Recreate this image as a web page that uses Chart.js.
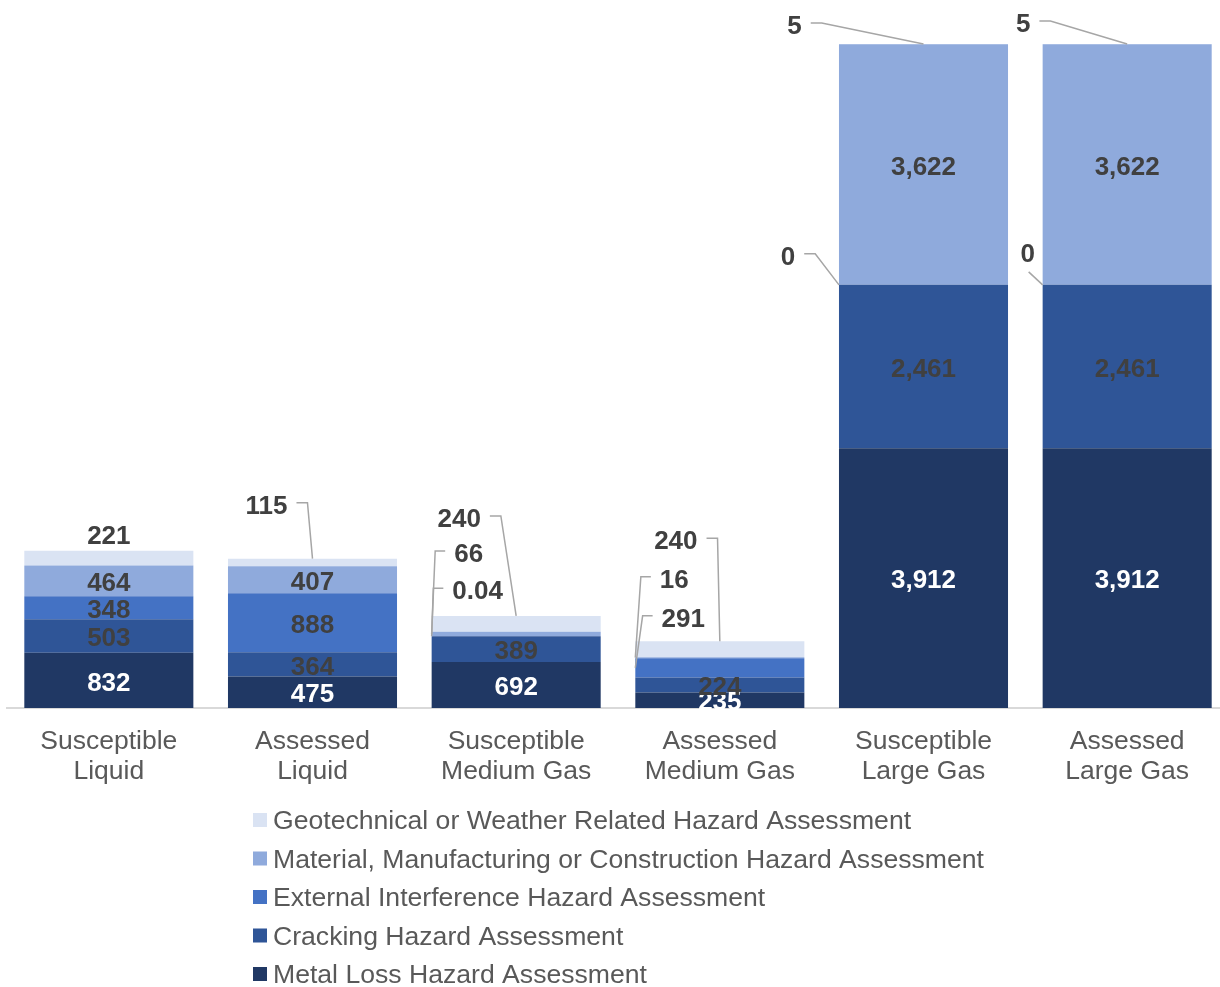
<!DOCTYPE html>
<html>
<head>
<meta charset="utf-8">
<script src="https://cdn.jsdelivr.net/npm/chart.js@4.4.1/dist/chart.umd.min.js"></script>
<style>
  html, body { margin: 0; padding: 0; overflow: hidden; background: #fff; }
</style>
</head>
<body>
<canvas id="chart" width="1230" height="987"></canvas>
<script>
const categories = [
  ['Susceptible', 'Liquid'],
  ['Assessed', 'Liquid'],
  ['Susceptible', 'Medium Gas'],
  ['Assessed', 'Medium Gas'],
  ['Susceptible', 'Large Gas'],
  ['Assessed', 'Large Gas']
];

// stacked bottom -> top
const metalLoss = [832, 475, 692, 235, 3912, 3912];
const cracking = [503, 364, 389, 224, 2461, 2461];
const externalInterference = [348, 888, 0.04, 291, 0, 0];
const material = [464, 407, 66, 16, 3622, 3622];
const geotechnical = [221, 115, 240, 240, 5, 5];

const seriesNames = [
  'Metal Loss Hazard Assessment',
  'Cracking Hazard Assessment',
  'External Interference Hazard Assessment',
  'Material, Manufacturing or Construction Hazard Assessment',
  'Geotechnical or Weather Related Hazard Assessment'
];
const seriesColors = ['#203864', '#2F5597', '#4472C4', '#8FAADC', '#DAE3F3'];

const FONT = '"Liberation Sans", Arial, sans-serif';

// labels moved out of small segments: "dataset:index" -> where the leader points and offset of the label
const callouts = {
  '4:0': { at: 'center', dx: 0, dy: -24 },
  '4:1': { at: 'top', dx: -46, dy: -55, side: 'right' },
  '4:2': { at: 'top', dx: -57, dy: -99, side: 'right' },
  '3:2': { at: 'left', dx: 37, dy: -82, side: 'left' },
  '2:2': { at: 'left', dx: 46, dy: -47, side: 'left' },
  '4:3': { at: 'top', dx: -44, dy: -102, side: 'right' },
  '3:3': { at: 'left', dx: 39, dy: -80, side: 'left' },
  '2:3': { at: 'left', dx: 48, dy: -51, side: 'left' },
  '4:4': { at: 'top', dx: -129, dy: -20, side: 'right' },
  '2:4': { at: 'left', dx: -51, dy: -30, side: 'right' },
  '4:5': { at: 'top', dx: -104, dy: -22, side: 'right' },
  '2:5': { at: 'left', dx: -15, dy: -33, side: 'below' }
};

const fmt = v => v.toLocaleString('en-US', { maximumFractionDigits: 2 });

const barLabels = {
  id: 'barLabels',
  afterDatasetsDraw(chart) {
    const ctx = chart.ctx;
    ctx.save();
    ctx.font = 'bold 26px ' + FONT;
    ctx.textAlign = 'center';
    ctx.textBaseline = 'middle';
    chart.data.datasets.forEach((ds, i) => {
      chart.getDatasetMeta(i).data.forEach((bar, j) => {
        const text = fmt(ds.data[j]);
        const c = callouts[i + ':' + j];
        let x = bar.x;
        let y = (bar.y + bar.base) / 2;
        if (c) {
          const tx = c.at === 'left' ? bar.x - bar.width / 2 : bar.x;
          const ty = c.at === 'top' ? bar.y : y;
          x = tx + c.dx;
          y = ty + c.dy;
          if (c.side) {
            const hw = ctx.measureText(text).width / 2;
            ctx.beginPath();
            ctx.strokeStyle = '#A6A6A6';
            ctx.lineWidth = 1.5;
            if (c.side === 'right') {
              ctx.moveTo(x + hw + 9, y - 1);
              ctx.lineTo(x + hw + 20, y - 1);
            } else if (c.side === 'left') {
              ctx.moveTo(x - hw - 9, y - 1);
              ctx.lineTo(x - hw - 19, y - 1);
            } else {
              ctx.moveTo(x + 1, y + 20);
            }
            ctx.lineTo(tx, ty);
            ctx.stroke();
          }
        }
        ctx.fillStyle = i === 0 ? '#FFFFFF' : '#404040';
        ctx.fillText(text, x, y + 3);
      });
    });
    ctx.restore();
  }
};

const listLegend = {
  id: 'listLegend',
  afterDraw(chart) {
    const ctx = chart.ctx;
    ctx.save();
    ctx.font = '26.6px ' + FONT;
    ctx.textAlign = 'left';
    ctx.textBaseline = 'middle';
    const sets = chart.data.datasets.slice().reverse();
    sets.forEach((ds, row) => {
      const y = 820 + row * 38.5;
      ctx.fillStyle = ds.backgroundColor;
      ctx.fillRect(253, y - 7, 14, 14);
      ctx.fillStyle = '#595959';
      ctx.fillText(ds.label, 273, y + 2);
    });
    ctx.restore();
  }
};

const seriesData = [metalLoss, cracking, externalInterference, material, geotechnical];

new Chart(document.getElementById('chart'), {
  type: 'bar',
  data: {
    labels: categories,
    datasets: seriesData.map((d, i) => ({
      label: seriesNames[i],
      data: d,
      backgroundColor: seriesColors[i],
      borderWidth: 0,
      categoryPercentage: 1,
      barPercentage: 0.83
    }))
  },
  options: {
    responsive: false,
    animation: false,
    layout: { padding: { top: 44, left: 7, right: 1, bottom: 0 } },
    plugins: {
      legend: { display: false },
      tooltip: { enabled: false }
    },
    scales: {
      x: {
        stacked: true,
        grid: { display: false, drawTicks: false },
        border: { color: '#D9D9D9', width: 2 },
        ticks: {
          color: '#595959',
          font: { size: 26.5, family: FONT, lineHeight: 1.15 },
          padding: 18,
          maxRotation: 0,
          autoSkip: false
        },
        afterFit(scale) { scale.height = 279; }
      },
      y: { stacked: true, display: false, min: 0, max: 10000 }
    }
  },
  plugins: [barLabels, listLegend]
});
</script>
</body>
</html>
